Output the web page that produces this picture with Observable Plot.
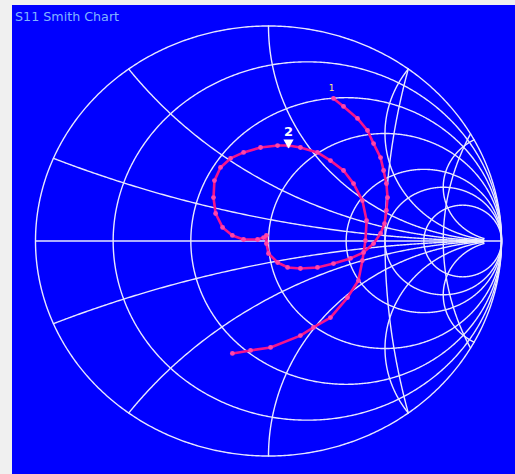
<!DOCTYPE html>
<html>
<head>
<meta charset="utf-8">
<script src="https://cdn.jsdelivr.net/npm/d3@7"></script>
<script src="https://cdn.jsdelivr.net/npm/@observablehq/plot@0.6"></script>
<style>
  html, body { margin: 0; padding: 0; background: #f0f0f0; }
  #panel { position: absolute; left: 12px; top: 5px; width: 503px; height: 469px; background: #0000ff; overflow: hidden; }
  #title { position: absolute; left: 3px; top: 4px; font: 12.7px "DejaVu Sans", sans-serif; color: #80b4ff; white-space: nowrap; }
  #panel svg { position: absolute; left: 0; top: 0; }
</style>
</head>
<body>
<div id="panel"><div id="title">S11 Smith Chart</div></div>
<script>
// Smith chart grid: constant-resistance circles and constant-reactance arcs
const resistanceValues = [0, 0.2, 0.5, 1, 2, 3, 5];
const reactanceValues = [0.2, 0.5, 1, 2, 4];
// Extra guide arcs, given by where they cross the real axis and meet the rim
const guideArcAxisRe = [0.5, 0.75];
const guideArcRimRe = [0.6, 0.867];

// Measured S11 reflection coefficient (real / imaginary parts) over the sweep
const s11Re = [0.279, 0.322, 0.382, 0.425, 0.451, 0.481, 0.494, 0.506, 0.511, 0.506,
  0.498, 0.481, 0.451, 0.408, 0.352, 0.279, 0.210, 0.137, 0.082, 0.039,
  0.000, -0.009, -0.009, -0.021, -0.047, -0.107, -0.155, -0.197, -0.227, -0.236,
  -0.232, -0.206, -0.163, -0.107, -0.034, 0.039, 0.086, 0.137, 0.210, 0.266,
  0.322, 0.365, 0.403, 0.421, 0.416, 0.403, 0.386, 0.339, 0.266, 0.193,
  0.137, 0.009, -0.077, -0.155];
const s11Im = [0.663, 0.626, 0.570, 0.514, 0.453, 0.388, 0.328, 0.267, 0.202, 0.142,
  0.081, 0.035, -0.012, -0.053, -0.081, -0.105, -0.123, -0.128, -0.123, -0.100,
  -0.058, -0.012, 0.026, 0.016, 0.007, 0.007, 0.026, 0.063, 0.128, 0.202,
  0.281, 0.342, 0.384, 0.412, 0.435, 0.444, 0.444, 0.435, 0.412, 0.374,
  0.328, 0.267, 0.188, 0.095, 0.002, -0.091, -0.184, -0.263, -0.356, -0.402,
  -0.440, -0.495, -0.509, -0.523];

// Markers: index into the sweep and label
const markerIndex = [0, 36];
const markerLabels = ["1", "2"];

const trace = s11Re.map((re, i) => ({re, im: s11Im[i]}));
const markers = markerIndex.map((k, i) => ({...trace[k], label: markerLabels[i]}));

// z -> reflection coefficient
function gamma(r, x) {
  const a = r - 1, c = r + 1;
  const den = c * c + x * x;
  return [(a * c + x * x) / den, (x * c - a * x) / den];
}

const grid = [];
resistanceValues.forEach(r => {
  const c = r / (1 + r), rad = 1 / (1 + r);
  for (let i = 0; i <= 720; i++) {
    const t = i / 720 * 2 * Math.PI;
    grid.push({id: "r" + r, re: c + rad * Math.cos(t), im: rad * Math.sin(t)});
  }
});
const rMax = 25;
reactanceValues.forEach(xv => [xv, -xv].forEach(x => {
  for (let i = 0; i <= 400; i++) {
    const g = gamma(rMax * Math.pow(i / 400, 3), x);
    grid.push({id: "x" + x, re: g[0], im: g[1]});
  }
}));
guideArcAxisRe.forEach((a, k) => {
  const b = guideArcRimRe[k];
  const c = (1 - a * a) / (2 * (b - a)), rad = c - a;
  const phi = Math.atan2(Math.sqrt(1 - b * b), c - b);
  for (let i = 0; i <= 200; i++) {
    const t = Math.PI - phi + 2 * phi * i / 200;
    grid.push({id: "g" + k, re: c + rad * Math.cos(t), im: rad * Math.sin(t)});
  }
});

const chart = Plot.plot({
  width: 503,
  height: 469,
  marginLeft: 23,
  marginRight: 14,
  marginTop: 20.5,
  marginBottom: 18.5,
  x: {domain: [-1, 1], axis: null},
  y: {domain: [-1, 1], axis: null},
  style: {background: "transparent", overflow: "visible"},
  marks: [
    Plot.line(grid, {x: "re", y: "im", z: "id", stroke: "#e8e8ff", strokeWidth: 1.4}),
    Plot.ruleY([0], {x1: -1, x2: 1, stroke: "#e8e8ff", strokeWidth: 1.4}),
    Plot.line(trace, {x: "re", y: "im", stroke: "#f5148c", strokeWidth: 2.6}),
    Plot.dot(trace, {x: "re", y: "im", r: 2.4, fill: "#ff45a8"}),
    Plot.dot(markers.slice(1), {x: "re", y: "im", symbol: "triangle", rotate: 180, r: 3.8, fill: "white", dy: -3}),
    Plot.text(markers.slice(1), {x: "re", y: "im", text: "label", fill: "white", fontSize: 13, fontWeight: "bold", fontFamily: "DejaVu Sans", dy: -14}),
    Plot.text(markers.slice(0, 1), {x: "re", y: "im", text: "label", fill: "#ffe680", fontSize: 9, fontFamily: "DejaVu Sans", dy: -10, dx: -2})
  ]
});
document.getElementById("panel").appendChild(chart);
</script>
</body>
</html>
